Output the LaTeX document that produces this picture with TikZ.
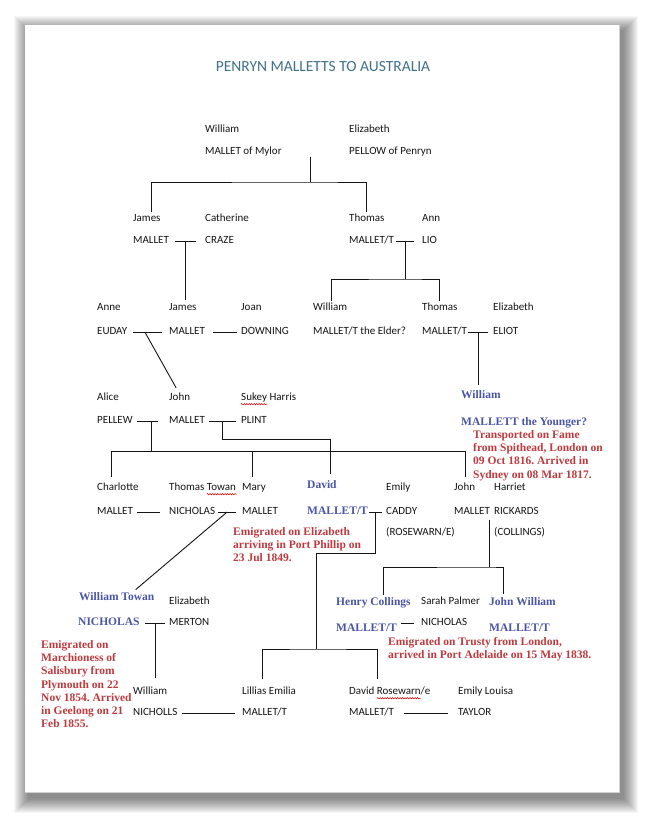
\documentclass[tikz,border=0pt]{standalone}
\usepackage{fontspec}
\setmainfont{Carlito}
\newfontfamily\serbold{Liberation Serif}
\usetikzlibrary{calc, decorations.pathmorphing}
\definecolor{ink}{HTML}{151515}
\definecolor{nameblue}{HTML}{4B55A6}
\definecolor{notered}{HTML}{BF3A3F}
\definecolor{titleteal}{HTML}{41708A}
\frenchspacing

\begin{document}
\begin{tikzpicture}[x=1pt, y=-1pt,
    nm/.style={anchor=west, inner sep=0pt, text=ink, text height=7pt, text depth=2pt,
               font=\fontsize{11}{13}\selectfont},
    bl/.style={nm, text=nameblue, text height=8pt, text depth=2.5pt,
               font=\serbold\bfseries\fontsize{11.5}{13}\selectfont},
    note/.style={anchor=north west, inner sep=0pt, align=left, text=notered,
                 font=\serbold\bfseries\fontsize{11.5}{13.3}\selectfont},
    link/.style={draw=ink, line width=0.9pt},
    spell/.style={draw=red!85!black, line width=0.5pt, decorate,
                  decoration={snake, amplitude=0.7pt, segment length=2.5pt}},
  ]
  \useasboundingbox (0,0) rectangle (646,819);
  \fill[white] (0,0) rectangle (646,819);
  % page and its shadow
  \foreach \s in {1,...,15}
    \fill[black, opacity=0.035] ({29-\s},{31-\s}) rectangle ({623+\s},{798+\s});
  \fill[white] (25,25) rectangle (619,792);
  \draw[black!18, line width=0.6pt] (25,792) -- (619,792) -- (619,25);

  \node[inner sep=0pt, text=titleteal, font=\fontsize{15.5}{18}\selectfont] (title) at (323,67)
    {PENRYN MALLETTS TO AUSTRALIA};

  % generation 0
  \node[nm] (w0a) at (205,130) {William};
  \node[nm] (w0b) at (205,152) {MALLET of Mylor};
  \node[nm] (e0a) at (349,130) {Elizabeth};
  \node[nm] (e0b) at (349,152) {PELLOW of Penryn};

  % generation 1
  \node[nm] (j1a) at (133,219) {James};
  \node[nm] (j1b) at (133,241) {MALLET};
  \node[nm] (c1a) at (205,219) {Catherine};
  \node[nm] (c1b) at (205,241) {CRAZE};
  \node[nm] (t1a) at (349,219) {Thomas};
  \node[nm] (t1b) at (349,241) {MALLET/T};
  \node[nm] (a1a) at (422,219) {Ann};
  \node[nm] (a1b) at (422,241) {LIO};

  % generation 2
  \node[nm] (a2a) at (97,308) {Anne};
  \node[nm] (a2b) at (97,332) {EUDAY};
  \node[nm] (j2a) at (169,308) {James};
  \node[nm] (j2b) at (169,332) {MALLET};
  \node[nm] (d2a) at (241,308) {Joan};
  \node[nm] (d2b) at (241,332) {DOWNING};
  \node[nm] (w2a) at (313,308) {William};
  \node[nm] (w2b) at (313,332) {MALLET/T the Elder?};
  \node[nm] (t2a) at (422,308) {Thomas};
  \node[nm] (t2b) at (422,332) {MALLET/T};
  \node[nm] (e2a) at (493,308) {Elizabeth};
  \node[nm] (e2b) at (493,332) {ELIOT};

  % generation 3
  \node[nm] (p3a) at (97,398) {Alice};
  \node[nm] (p3b) at (97,421) {PELLEW};
  \node[nm] (j3a) at (169,398) {John};
  \node[nm] (j3b) at (169,421) {MALLET};
  \node[nm] (s3a) at (241,398) {Sukey Harris};
  \node[nm] (s3b) at (241,421) {PLINT};
  \node[bl] (w3a) at (461,396) {William};
  \node[bl] (w3b) at (461,423) {MALLETT the Younger?};
  \node[note] (fame) at (473,430) {Transported on Fame\\from Spithead, London on\\09 Oct 1816. Arrived in\\Sydney on 08 Mar 1817.};

  % generation 4
  \node[nm] (c4a) at (97,488) {Charlotte};
  \node[nm] (c4b) at (97,512) {MALLET};
  \node[nm] (n4a) at (169,488) {Thomas Towan};
  \node[nm] (n4b) at (169,512) {NICHOLAS};
  \node[nm] (m4a) at (242,488) {Mary};
  \node[nm] (m4b) at (242,512) {MALLET};
  \node[bl] (d4a) at (307,486) {David};
  \node[bl] (d4b) at (307,512) {MALLET/T};
  \node[nm] (e4a) at (386,488) {Emily};
  \node[nm] (e4b) at (386,512) {CADDY};
  \node[nm] (e4c) at (386,533) {(ROSEWARN/E)};
  \node[nm] (j4a) at (454,488) {John};
  \node[nm] (j4b) at (454,512) {MALLET};
  \node[nm] (h4a) at (494,488) {Harriet};
  \node[nm] (h4b) at (494,512) {RICKARDS};
  \node[nm] (h4c) at (494,533) {(COLLINGS)};
  \node[note] (phillip) at (233,527) {Emigrated on Elizabeth\\arriving in Port Phillip on\\23 Jul 1849.};

  % generation 5
  \node[bl] (w5a) at (79,598) {William Towan};
  \node[bl] (w5b) at (78,623) {NICHOLAS};
  \node[nm] (e5a) at (169,602) {Elizabeth};
  \node[nm] (e5b) at (169,623) {MERTON};
  \node[note] (salis) at (41,640) {Emigrated on\\Marchioness of\\Salisbury from\\Plymouth on 22\\Nov 1854. Arrived\\in Geelong on 21\\Feb 1855.};
  \node[bl] (h5a) at (336,603) {Henry Collings};
  \node[bl] (h5b) at (336,629) {MALLET/T};
  \node[nm] (s5a) at (421,602) {Sarah Palmer};
  \node[nm] (s5b) at (421,623) {NICHOLAS};
  \node[bl] (j5a) at (489,603) {John William};
  \node[bl] (j5b) at (489,629) {MALLET/T};
  \node[note] (trusty) at (388,637) {Emigrated on Trusty from London,\\arrived in Port Adelaide on 15 May 1838.};

  % generation 6
  \node[nm] (w6a) at (133,692) {William};
  \node[nm] (w6b) at (133,713) {NICHOLLS};
  \node[nm] (l6a) at (242,692) {Lillias Emilia};
  \node[nm] (l6b) at (242,713) {MALLET/T};
  \node[nm] (d6a) at (349,692) {David Rosewarn/e};
  \node[nm] (d6b) at (349,713) {MALLET/T};
  \node[nm] (u6a) at (458,692) {Emily Louisa};
  \node[nm] (u6b) at (458,713) {TAYLOR};

  % junctions of the family lines
  \coordinate (f1) at (310,182);
  \coordinate (f2) at (405,279);
  \coordinate (f3) at (0,439);
  \coordinate (f4) at (0,451);
  \coordinate (f5) at (316,553);
  \coordinate (f6) at (316,649);
  \coordinate (f7) at (489,567);

  % William and Elizabeth
  \draw[link] (f1 |- w0b.south) -- (f1);
  \draw[link] ([xshift=5pt,yshift=2pt]j1a.north) |- (f1) -| ([yshift=2pt]t1a.north);

  % marriages and children
  \draw[link] ([xshift=6pt]j1b.east) -- coordinate (k1) ([xshift=-9pt]c1b.west);
  \draw[link] (k1) -- ([yshift=3pt]k1 |- j2a.north);
  \draw[link] ([xshift=2pt]t1b.east) -- coordinate (k2) ([xshift=-8pt]a1b.west);
  \draw[link] (k2) -- (k2 |- f2);
  \draw[link] ([xshift=1pt,yshift=2pt]w2a.north) |- (f2) -| ([yshift=2pt]t2a.north);

  \draw[link] ([xshift=6pt]a2b.east) -- coordinate[pos=0.4] (k3) ([xshift=-7pt]j2b.west);
  \draw[link] (k3) -- ([xshift=-3.5pt,yshift=5.5pt]j3a.north);
  \draw[link] ([xshift=8pt]j2b.east) -- ([xshift=-4pt]d2b.west);
  \draw[link] ([xshift=1pt]t2b.east) -- coordinate (k4) ([xshift=-5pt]e2b.west);
  \draw[link] (k4) -- ([yshift=6pt]k4 |- w3a.north);

  \draw[link] ([xshift=4.5pt]p3b.east) -- coordinate[pos=0.7] (k5) ([xshift=-11pt]j3b.west);
  \draw[link] ([xshift=4pt]j3b.east) -- coordinate (k6) ([xshift=-5pt]s3b.west);
  \draw[link] (k6) |- ([xshift=8.3pt]d4a.north |- f3) -- ([xshift=8.3pt,yshift=7pt]d4a.north);
  \draw[link] (k5) -- (k5 |- f4);
  \draw[link] ([xshift=-6pt,yshift=6pt]c4a.north) |- ([xshift=1pt]j4a.north |- f4)
    -- ([xshift=1pt,yshift=6pt]j4a.north);
  \draw[link] ([xshift=-1.7pt]m4a.north |- f4) -- ([xshift=-1.7pt,yshift=6pt]m4a.north);

  \draw[link] ([xshift=4pt]c4b.east) -- ([xshift=-9pt]n4b.west);
  \draw[link] ([xshift=3pt]n4b.east) -- coordinate (k7) ([xshift=-6pt]m4b.west);
  \draw[link] (k7) -- ([xshift=19pt,yshift=3pt]w5a.north);
  \draw[link] ([xshift=1pt]d4b.east) -- coordinate (k8) ([xshift=-4pt]e4b.west);
  \draw[link] (k8) |- (f5) -- (f6);
  \draw[link] ([xshift=-7pt,yshift=8pt]l6a.north) |- (f6) -| ([xshift=-12pt,yshift=8pt]d6a.north);

  \draw[link] ([yshift=-3pt]f7 |- h4b.south) -- (f7);
  \draw[link] ([xshift=10pt,yshift=3pt]h5a.north) |- (f7) -| ([xshift=-19pt,yshift=4pt]j5a.north);
  \draw[link] ([xshift=4pt]h5b.east |- s5b.west) -- ([xshift=-7pt]s5b.west);

  \draw[link] ([xshift=5.7pt]w5b.east) -- coordinate (k9) ([xshift=-4pt]e5b.west);
  \draw[link] (k9) -- ([yshift=9.5pt]k9 |- w6a.north);
  \draw[link] ([xshift=4.8pt]w6b.east) -- ([xshift=-7pt]l6b.west);
  \draw[link] ([xshift=9.7pt]d6b.east) -- ([xshift=-10pt]u6b.west);

  % spelling marks
  \draw[spell] ([yshift=-1.5pt]s3a.south west) -- ++(26,0);
  \draw[spell] ([xshift=37.8pt,yshift=-1.5pt]n4a.south west) -- ++(30,0);
  \draw[spell] ([xshift=27.8pt,yshift=-1.5pt]d6a.south west) -- ++(44,0);
\end{tikzpicture}
\end{document}
